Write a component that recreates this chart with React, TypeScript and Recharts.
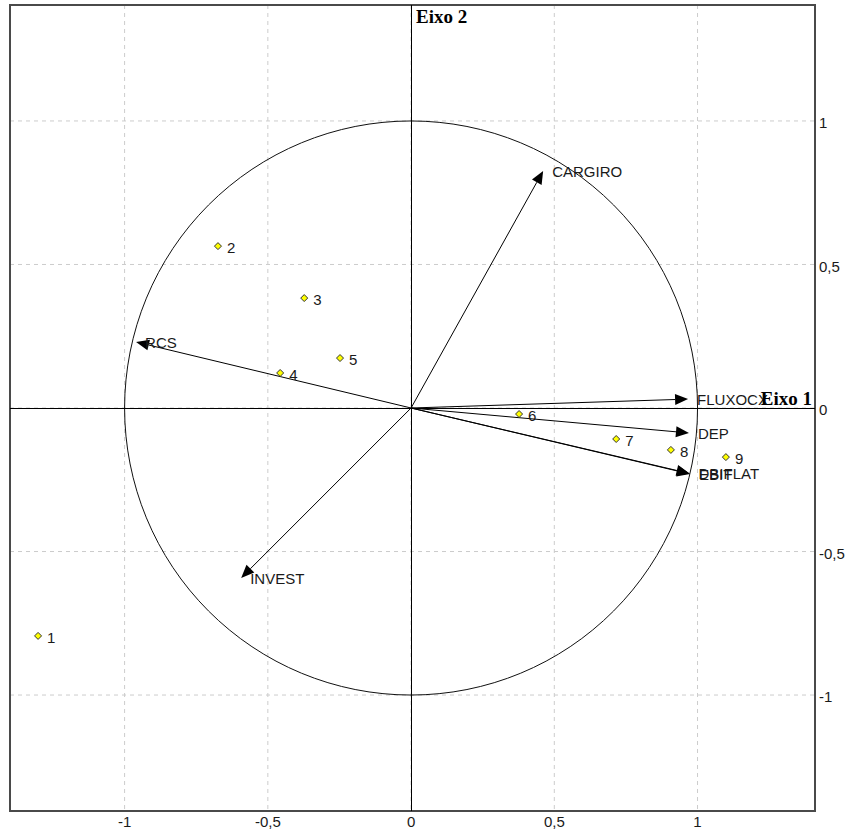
import {
  ScatterChart,
  Scatter,
  XAxis,
  YAxis,
  CartesianGrid,
  ReferenceLine,
  ReferenceArea,
} from 'recharts'

// axis ranges and tick marks (factor plane)
const axisTicks = [-1, -0.5, 0, 0.5, 1]
const xDomain = [-1.4, 1.41]
const yDomain = [-1.404, 1.404]

// observations (scores)
const obsIds = ['1', '2', '3', '4', '5', '6', '7', '8', '9']
const obsX = [-1.302, -0.674, -0.373, -0.457, -0.248, 0.377, 0.716, 0.907, 1.099]
const obsY = [-0.794, 0.564, 0.383, 0.122, 0.174, -0.021, -0.108, -0.146, -0.171]

// variables (loadings)
const varNames = ['CARGIRO', 'RCS', 'FLUXOCX', 'DEP', 'EBIT', 'DBIFLAT', 'INVEST']
const varX = [0.461, -0.96, 0.967, 0.97, 0.974, 0.972, -0.593]
const varY = [0.826, 0.23, 0.031, -0.087, -0.23, -0.228, -0.592]

const observations = obsIds.map((id, i) => ({ id, x: obsX[i], y: obsY[i] }))
const variables = varNames.map((name, i) => ({ name, x: varX[i], y: varY[i] }))

const SANS = 'Liberation Sans, Arial, sans-serif'
const SERIF = 'Liberation Serif, Times New Roman, serif'

const fmt = (v: number) => String(v).replace('.', ',')

function Arrow(props: any) {
  const { x1, y1, x2, y2, name } = props
  const dx = x2 - x1
  const dy = y2 - y1
  const len = Math.hypot(dx, dy) || 1
  const ux = dx / len
  const uy = dy / len
  const L = 13
  const W = 5.5
  const bx = x2 - ux * L
  const by = y2 - uy * L
  const head = `${x2},${y2} ${bx - uy * W},${by + ux * W} ${bx + uy * W},${by - ux * W}`
  return (
    <g>
      <line x1={x1} y1={y1} x2={bx} y2={by} stroke="#000" strokeWidth={1} />
      <polygon points={head} fill="#000" />
      <text x={x2 + 9} y={y2 + 6} fontFamily={SANS} fontSize={15} fill="#1a1a1a">
        {name}
      </text>
    </g>
  )
}

function Diamond(props: any) {
  const { cx, cy, payload } = props
  const r = 3.5
  return (
    <g>
      <polygon
        points={`${cx},${cy - r} ${cx + r},${cy} ${cx},${cy + r} ${cx - r},${cy}`}
        fill="#ffff00"
        stroke="#333"
        strokeWidth={1}
      />
      <text x={cx + 9} y={cy + 7} fontFamily={SANS} fontSize={15} fill="#1a1a1a">
        {payload.id}
      </text>
    </g>
  )
}

export default function App() {
  return (
    <div style={{ position: 'absolute', left: 0, top: 0, background: '#fff' }}>
      <ScatterChart
        width={848}
        height={832}
        margin={{ top: 5, right: 0, bottom: 0, left: 10 }}
      >
        <CartesianGrid stroke="#cccccc" strokeDasharray="4 4" />
        <XAxis
          type="number"
          dataKey="x"
          domain={xDomain}
          ticks={axisTicks}
          allowDataOverflow
          height={21}
          axisLine={false}
          tickLine={false}
          tickFormatter={fmt}
          tick={{ fontFamily: SANS, fontSize: 15, fill: '#1a1a1a', dy: -3 }}
        />
        <YAxis
          type="number"
          dataKey="y"
          orientation="right"
          domain={yDomain}
          ticks={axisTicks}
          allowDataOverflow
          width={33}
          axisLine={false}
          tickLine={false}
          tickFormatter={fmt}
          tick={{ fontFamily: SANS, fontSize: 15, fill: '#1a1a1a', textAnchor: 'start', dx: -4, dy: 2 }}
        />
        {/* correlation circle */}
        <ReferenceArea
          x1={-1}
          x2={1}
          y1={-1}
          y2={1}
          ifOverflow="visible"
          shape={(p: any) => (
            <ellipse
              cx={p.x + p.width / 2}
              cy={p.y + p.height / 2}
              rx={Math.abs(p.width) / 2}
              ry={Math.abs(p.height) / 2}
              fill="none"
              stroke="#111"
              strokeWidth={1}
            />
          )}
        />
        <ReferenceLine
          x={0}
          stroke="#000"
          strokeWidth={1}
          shapeRendering="crispEdges"
          label={{
            value: 'Eixo 2',
            position: 'insideTopLeft',
            offset: 5,
            fontFamily: SERIF,
            fontWeight: 'bold',
            fontSize: 19,
            fill: '#000',
          }}
        />
        {variables.map((v) => (
          <ReferenceLine
            key={v.name}
            segment={[
              { x: 0, y: 0 },
              { x: v.x, y: v.y },
            ]}
            ifOverflow="visible"
            shape={(p: any) => <Arrow {...p} name={v.name} />}
          />
        ))}
        <ReferenceLine
          y={0}
          stroke="#000"
          strokeWidth={1}
          shapeRendering="crispEdges"
          label={{
            value: 'Eixo 1',
            position: 'insideBottomRight',
            offset: 3,
            fontFamily: SERIF,
            fontWeight: 'bold',
            fontSize: 19,
            fill: '#000',
          }}
        />
        <Scatter data={observations} shape={<Diamond />} isAnimationActive={false} />
        {/* plot frame */}
        <ReferenceArea
          x1={xDomain[0]}
          x2={xDomain[1]}
          y1={yDomain[0]}
          y2={yDomain[1]}
          ifOverflow="visible"
          fill="none"
          fillOpacity={0}
          stroke="#4a4a4a"
          strokeWidth={2}
          strokeOpacity={1}
        />
      </ScatterChart>
    </div>
  )
}
